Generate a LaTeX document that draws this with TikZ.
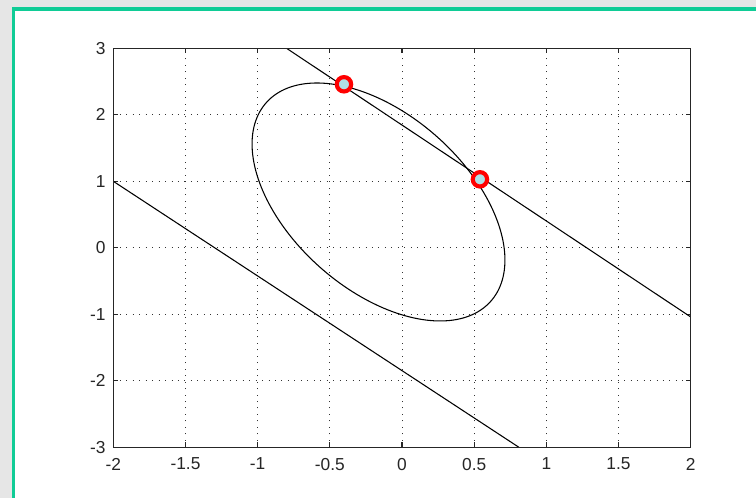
\documentclass[tikz,border=0pt]{standalone}
\usepackage{fontspec}
\setmainfont{Liberation Sans}
\definecolor{frameg}{RGB}{16,204,150}
\definecolor{bggray}{RGB}{230,230,230}
\definecolor{mfill}{RGB}{176,222,228}
\begin{document}
\begin{tikzpicture}[x=0.75pt,y=-0.75pt,
  gridline/.style={draw=black!80, line width=0.75pt, dash pattern=on 0.75pt off 4.1pt},
  axisline/.style={draw=black!85, line width=0.8pt},
  curve/.style={draw=black, line width=0.8pt},
  ticklab/.style={font=\fontsize{13}{13}\selectfont, inner sep=0pt, text=black!85},
  marker/.style={circle, draw=red, line width=3.1pt, fill=mfill, minimum size=10.8pt, inner sep=0pt}]
\useasboundingbox (0,0) rectangle (756,498);
\fill[bggray] (0,0) rectangle (756,498);
\fill[white] (13.7,9) rectangle (756,498);
\draw[frameg, line width=2.6pt] (13.7,498) -- (13.7,9) -- (756,9);
\begin{scope}[shift={(402,247.8)}, x=108.26pt, y=49.875pt]
  % grid
  \foreach \gx in {-1.5,-1,-0.5,0,0.5,1,1.5} \draw[gridline] (\gx,-3) -- (\gx,3);
  \foreach \gy in {-2,-1,0,1,2} \draw[gridline] (-2,\gy) -- (2,\gy);
  % ticks
  \foreach \gx in {-1.5,-1,-0.5,0,0.5,1,1.5} {
    \draw[axisline] (\gx,-3) -- ++(0,0.075);
    \draw[axisline] (\gx,3) -- ++(0,-0.075);
  }
  \foreach \gy in {-2,-1,0,1,2} {
    \draw[axisline] (-2,\gy) -- ++(0.035,0);
    \draw[axisline] (2,\gy) -- ++(-0.035,0);
  }
  % tick labels
  \foreach \gx/\nm in {-2/xa,-1.5/xb,-1/xc,-0.5/xd,0/xe,0.5/xf,1/xg,1.5/xh,2/xi}
    \node[ticklab, anchor=north] (\nm) at (\gx,-3.156) {\gx};
  \foreach \gy/\nm in {-3/ya,-2/yb,-1/yc,0/yd,1/ye,2/yf,3/yg}
    \node[ticklab, anchor=east] (\nm) at (-2.052,\gy) {\gy};
  % curves
  \begin{scope}
    \clip (-2,-3) rectangle (2,3);
    \draw[curve] (-0.80,3) -- (2,-1.04);
    \draw[curve] (-2,1) -- (0.81,-3);
    \draw[curve] plot[domain=0:360, samples=181, variable=\t]
      ({-0.1628+0.876*cos(\t)}, {0.689-0.872*cos(\t)+1.5624*sin(\t)}) -- cycle;
  \end{scope}
  % axes box
  \draw[axisline] (-2,-3) rectangle (2,3);
  % markers
  \node[marker] (m1) at (-0.402,2.459) {};
  \node[marker] (m2) at (0.540,1.030) {};
\end{scope}
\end{tikzpicture}
\end{document}
